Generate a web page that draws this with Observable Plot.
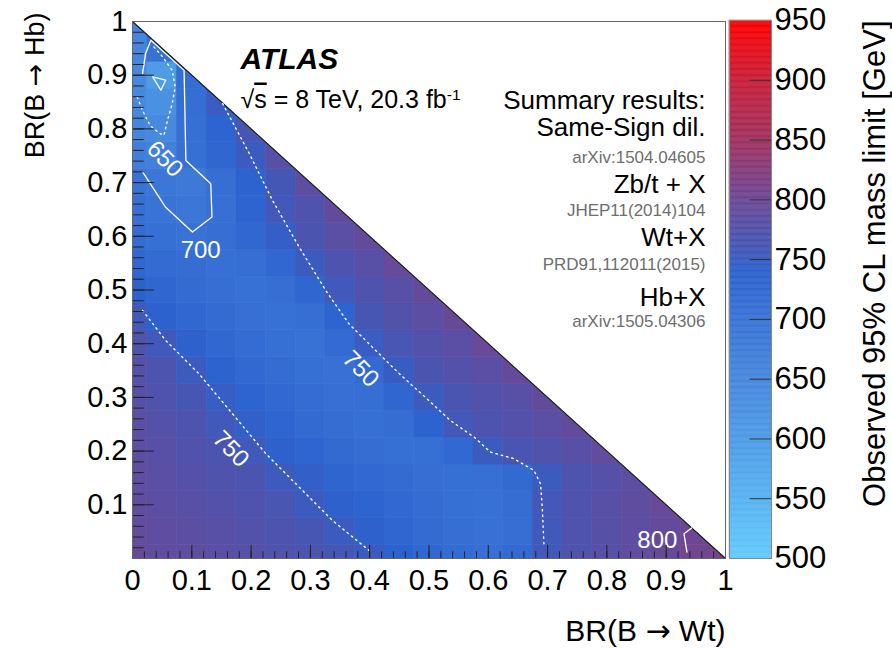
<!DOCTYPE html>
<html>
<head>
<meta charset="utf-8">
<script src="https://cdn.jsdelivr.net/npm/d3@7"></script>
<script src="https://cdn.jsdelivr.net/npm/@observablehq/plot@0.6"></script>
<style>
  body { margin: 0; background: #fff; }
  #chart { position: relative; width: 892px; height: 648px; }
  #chart svg { position: absolute; left: 0; top: 0; }
</style>
</head>
<body>
<div id="chart"></div>
<script>
// ---------------- data ----------------
// bin centres of the 2D histogram
const brWt = [0, 0.05, 0.1, 0.15, 0.2, 0.25, 0.3, 0.35, 0.4, 0.45, 0.5, 0.55, 0.6, 0.65, 0.7, 0.75, 0.8, 0.85, 0.9, 0.95, 1];
const brHb = [0, 0.05, 0.1, 0.15, 0.2, 0.25, 0.3, 0.35, 0.4, 0.45, 0.5, 0.55, 0.6, 0.65, 0.7, 0.75, 0.8, 0.85, 0.9, 0.95, 1];

// observed mass limit [GeV]; row j is BR(B->Hb)=brHb[j], entries run over brWt
const massLimit = [
  [795,788,786,782,778,772,766,760,753,740,728,718,710,722,757,772,780,787,795,805,810],
  [790,786,783,779,774,768,762,752,742,730,720,712,706,712,756,770,778,786,794,803],
  [788,784,780,775,770,764,753,742,735,725,716,708,705,714,758,770,779,787,796],
  [786,782,777,772,766,754,745,733,725,718,712,708,710,722,753,768,777,785],
  [784,779,773,766,755,742,732,722,714,708,708,725,752,765,773,780,790],
  [782,776,768,757,744,732,722,714,708,715,738,758,768,775,782,791],
  [780,772,763,748,736,725,716,710,712,730,752,765,773,780,792],
  [777,768,752,738,726,716,708,706,722,749,766,775,782,794],
  [772,756,742,728,717,708,703,718,750,764,774,782,796],
  [757,740,728,718,710,705,712,736,762,774,783,797],
  [740,730,720,712,705,712,730,756,770,780,795],
  [728,720,714,708,712,728,752,768,780,796],
  [716,708,702,712,728,746,766,782,795],
  [708,701,690,710,735,758,772,792],
  [703,690,685,712,738,760,785],
  [672,668,708,730,752,780],
  [655,645,708,735,762],
  [645,625,712,750],
  [645,600,715],
  [655,705],
  [660]
];

// contour lines (BR(B->Wt), BR(B->Hb))
const contour600 = [[0.034,0.897],[0.056,0.891],[0.048,0.872],[0.034,0.897]];
const contour650 = [[0.008,0.859],[0.017,0.834],[0.03,0.806],[0.045,0.792],[0.053,0.788],[0.059,0.816],[0.067,0.847],[0.072,0.878],[0.067,0.909],[0.051,0.934],[0.034,0.955]];
const contour700 = [[0.017,0.72],[0.056,0.654],[0.101,0.608],[0.134,0.636],[0.132,0.698],[0.09,0.741],[0.087,0.909],[0.031,0.965],[0.022,0.94],[0.017,0.903]];
const contour750a = [[0.152,0.847],[0.197,0.754],[0.236,0.667],[0.281,0.58],[0.326,0.499],[0.365,0.437],[0.405,0.393],[0.45,0.344],[0.5,0.294],[0.536,0.257],[0.576,0.226],[0.604,0.198],[0.643,0.186],[0.677,0.164],[0.688,0.139],[0.691,0.096],[0.694,0.021]];
const contour750b = [[0.017,0.462],[0.056,0.406],[0.112,0.344],[0.169,0.269],[0.225,0.195],[0.281,0.133],[0.337,0.071],[0.399,0.015]];
const contour800 = [[0.943,0.057],[0.930,0.046],[0.935,0.012]];
const contourLabels = [
  {x: 0.0545, y: 0.744, label: "650", angle: 46},
  {x: 0.115, y: 0.574, label: "700", angle: 0},
  {x: 0.385, y: 0.353, label: "750", angle: 46},
  {x: 0.166, y: 0.204, label: "750", angle: 46},
  {x: 0.885, y: 0.034, label: "800", angle: 0}
];

// axes
const xTickValues = [0, 0.1, 0.2, 0.3, 0.4, 0.5, 0.6, 0.7, 0.8, 0.9, 1];
const xTickLabels = ["0", "0.1", "0.2", "0.3", "0.4", "0.5", "0.6", "0.7", "0.8", "0.9", "1"];
const yTickValues = [0.1, 0.2, 0.3, 0.4, 0.5, 0.6, 0.7, 0.8, 0.9, 1];
const yTickLabels = ["0.1", "0.2", "0.3", "0.4", "0.5", "0.6", "0.7", "0.8", "0.9", "1"];
const colorTicks = [500, 550, 600, 650, 700, 750, 800, 850, 900, 950];
const xTitle = "BR(B \u2192 Wt)";
const yTitle = "BR(B \u2192 Hb)";
const colorTitle = "Observed 95% CL mass limit [GeV]";

// annotations
const experiment = "ATLAS";
const energyText = "\u221As = 8 TeV, 20.3 fb";
const summaryTitle = "Summary results:";
const analyses = ["Same-Sign dil.", "Zb/t + X", "Wt+X", "Hb+X"];
const references = ["arXiv:1504.04605", "JHEP11(2014)104", "PRD91,112011(2015)", "arXiv:1505.04306"];

// palette (ROOT-like)
const paletteStops = [500, 550, 600, 650, 700, 740, 760, 800, 850, 900, 950];
const paletteColors = ["#64cafd", "#58b2f1", "#4e9be6", "#4687dc", "#3a73d6", "#2c62ce", "#4557b5", "#6b4896", "#a0325f", "#c81f3a", "#fe0000"];

// ---------------- rendering ----------------
const pal = d3.scaleLinear().domain(paletteStops).range(paletteColors).interpolate(d3.interpolateRgb);
const colorOpts = {type: "linear", domain: [500, 950], interpolate: t => pal(500 + 450 * t)};
const font = "'Liberation Sans', Arial, Helvetica, sans-serif";

const cells = brHb.flatMap((y, j) => massLimit[j].map((v, i) => ({x: brWt[i], y, v})));
const halfBin = 0.025;
const maskX = [0, 1];
const xMinor = d3.range(0, 1.0001, 0.02);
const yMinor = d3.range(0, 1.0001, 0.02);

const analysisDy = [105.7, 162.7, 215.7, 275.7];
const referenceDy = [135.6, 188.6, 243, 299.6];

const dotted = {stroke: "white", strokeWidth: 1.4, strokeDasharray: "1.5,4", strokeLinecap: "round"};
const solid = {stroke: "white", strokeWidth: 1.3};
const mid = {lineAnchor: "middle"};

const main = Plot.plot({
  width: 892, height: 648,
  marginLeft: 132, marginRight: 167, marginTop: 21, marginBottom: 90,
  x: {domain: [0, 1], axis: null},
  y: {domain: [0, 1], axis: null},
  color: colorOpts,
  style: {fontFamily: font, background: "white", color: "black", overflow: "visible"},
  marks: [
    Plot.rect(cells, {
      x1: d => d.x - halfBin, x2: d => d.x + halfBin,
      y1: d => d.y - halfBin, y2: d => d.y + halfBin,
      fill: "v", stroke: "v", strokeWidth: 0.6, clip: true
    }),
    Plot.areaY(maskX, {x: d => d, y1: d => 1 - d, y2: () => 1, fill: "white"}),
    Plot.line(maskX, {x: d => d, y: d => 1 - d, stroke: "#1a1a1a", strokeWidth: 1.1}),
    Plot.line(contour650, {x: d => d[0], y: d => d[1], ...dotted}),
    Plot.line(contour750a, {x: d => d[0], y: d => d[1], ...dotted}),
    Plot.line(contour750b, {x: d => d[0], y: d => d[1], ...dotted}),
    Plot.line(contour600, {x: d => d[0], y: d => d[1], ...solid}),
    Plot.line(contour700, {x: d => d[0], y: d => d[1], ...solid}),
    Plot.line(contour800, {x: d => d[0], y: d => d[1], ...solid}),
    Plot.text(contourLabels, {x: "x", y: "y", text: "label", rotate: "angle", fill: "white", fontSize: 24, ...mid}),
    // ticks (ROOT style, inward)
    Plot.ruleX(xMinor, {x: d => d, y1: () => 0, y2: () => 0.0125, stroke: "#222"}),
    Plot.ruleX(xTickValues, {x: d => d, y1: () => 0, y2: () => 0.0245, stroke: "#222"}),
    Plot.ruleY(yMinor, {y: d => d, x1: () => 0, x2: () => 0.0197, stroke: "#222"}),
    Plot.ruleY(yTickValues, {y: d => d, x1: () => 0, x2: () => 0.0366, stroke: "#222"}),
    Plot.frame({stroke: "#666", strokeWidth: 1}),
    // tick labels
    Plot.text(xTickValues, {x: d => d, y: () => 0, text: (d, i) => xTickLabels[i], dy: 22, fontSize: 29, ...mid}),
    Plot.text(yTickValues, {x: () => 0, y: d => d, text: (d, i) => yTickLabels[i], dx: -5, textAnchor: "end", fontSize: 29, ...mid}),
    // axis titles
    Plot.text([xTitle], {frameAnchor: "bottom-right", textAnchor: "end", dy: 73, fontSize: 30, ...mid}),
    Plot.text([yTitle], {frameAnchor: "top-left", textAnchor: "end", rotate: -90, dx: -97, dy: -9, fontSize: 27, ...mid}),
    // annotations
    Plot.text([experiment], {frameAnchor: "top-left", textAnchor: "start", dx: 108, dy: 37.4, fontSize: 30, fontWeight: "bold", fontStyle: "italic", ...mid}),
    Plot.text([energyText], {frameAnchor: "top-left", textAnchor: "start", dx: 108, dy: 78, fontSize: 25, ...mid}),
    Plot.text([summaryTitle], {frameAnchor: "top-right", textAnchor: "end", dx: -20, dy: 78.7, fontSize: 26, ...mid}),
    ...analyses.map((t, i) => Plot.text([t], {frameAnchor: "top-right", textAnchor: "end", dx: -20, dy: analysisDy[i], fontSize: 26, ...mid})),
    ...references.map((t, i) => Plot.text([t], {frameAnchor: "top-right", textAnchor: "end", dx: -20, dy: referenceDy[i], fontSize: 17, fill: "#6e6e6e", ...mid}))
  ]
});

// sqrt(s) with overline and fb^-1 superscript
d3.select(main).selectAll("text").filter(function () { return this.textContent === energyText; }).each(function () {
  const t = d3.select(this);
  t.text(null);
  t.append("tspan").text("\u221A");
  t.append("tspan").style("text-decoration", "overline").text("s");
  t.append("tspan").text(energyText.slice(2));
  t.append("tspan").attr("dy", "-0.5em").attr("font-size", "0.62em").text("-1");
});
// long arrows in the axis titles
d3.select(main).selectAll("text").filter(function () { return this.textContent.includes("\u2192"); }).each(function () {
  const s = this.textContent;
  const k = s.indexOf("\u2192");
  const t = d3.select(this);
  t.text(null);
  t.append("tspan").text(s.slice(0, k));
  t.append("tspan").attr("font-family", "'DejaVu Sans', sans-serif").text("\u2192");
  t.append("tspan").text(s.slice(k + 1));
});

const colorLevels = d3.range(500, 950, 1);
const bar = Plot.plot({
  width: 892, height: 648,
  marginLeft: 729, marginRight: 121, marginTop: 20, marginBottom: 90,
  x: {domain: [0, 1], axis: null},
  y: {domain: [500, 950], axis: null},
  color: colorOpts,
  style: {fontFamily: font, background: "transparent", color: "black", overflow: "visible"},
  marks: [
    Plot.rect(colorLevels, {x1: () => 0, x2: () => 1, y1: d => d, y2: d => d + 1, fill: d => d + 0.5, stroke: d => d + 0.5, strokeWidth: 0.5}),
    Plot.ruleY(colorTicks.slice(1, -1), {y: d => d, x1: () => 0.49, x2: () => 1, stroke: "#333"}),
    Plot.frame({stroke: "#888"}),
    Plot.text(colorTicks, {x: () => 1, y: d => d, text: d => String(d), textAnchor: "start", dx: 3, fontSize: 31, ...mid}),
    Plot.text([colorTitle], {frameAnchor: "top-right", textAnchor: "end", rotate: -90, dx: 104, fontSize: 31, ...mid})
  ]
});

const chart = document.getElementById("chart");
chart.appendChild(main);
chart.appendChild(bar);
</script>
</body>
</html>
